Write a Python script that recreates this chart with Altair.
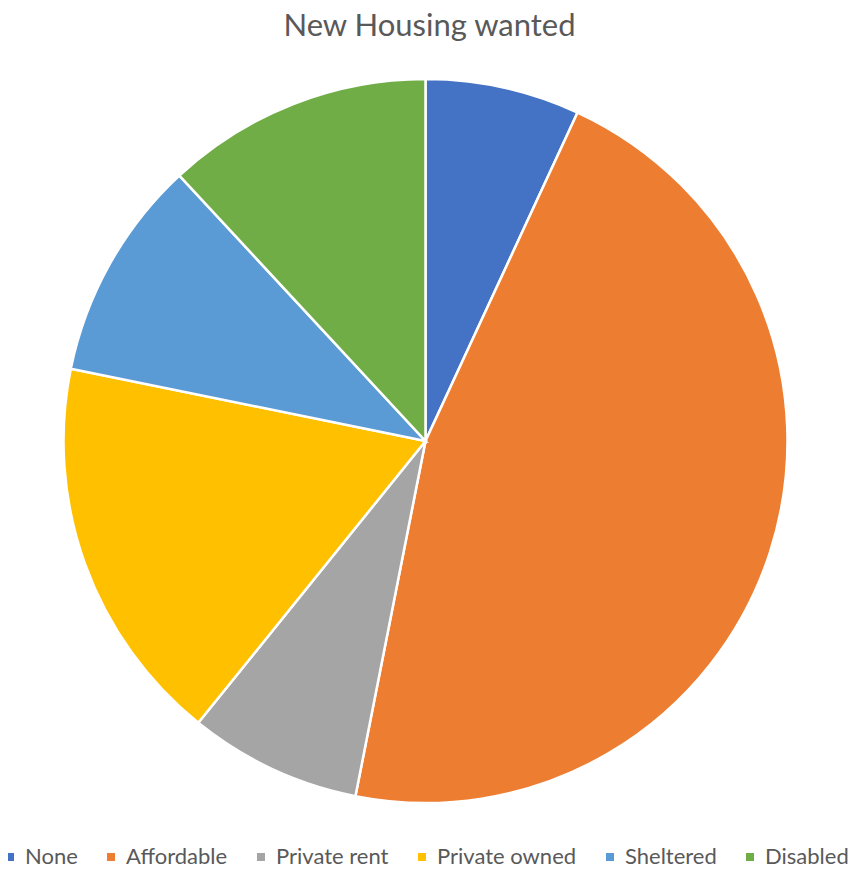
import altair as alt
import pandas as pd

categories = ["None", "Affordable", "Private rent", "Private owned", "Sheltered", "Disabled"]
values = [6.9, 46.2, 7.7, 17.4, 9.9, 11.9]
colors = ["#4472C4", "#ED7D31", "#A5A5A5", "#FFC000", "#5B9BD5", "#70AD47"]

df = pd.DataFrame({"category": categories, "value": values, "idx": list(range(len(categories)))})

FONT = "Lato"

chart = alt.Chart(df).mark_arc(
    radius=362, stroke="white", strokeWidth=2.5
).encode(
    theta=alt.Theta("value:Q", stack=True),
    order=alt.Order("idx:Q", sort="ascending"),
    x=alt.value(417.5),
    y=alt.value(385),
    color=alt.Color(
        "category:N",
        scale=alt.Scale(domain=categories, range=colors),
        sort=categories,
        legend=alt.Legend(
            title=None,
            orient="none",
            direction="horizontal",
            legendX=-9,
            legendY=790,
            symbolType="square",
            symbolSize=64,
            symbolStrokeWidth=0,
            labelFont=FONT,
            labelFontSize=22,
            labelColor="#595959",
            labelOffset=4,
            columnPadding=22,
            columns=6,
        ),
    ),
).properties(
    width=843,
    height=812,
    padding={"left": 0, "right": 0, "top": 48, "bottom": 0},
    autosize=alt.AutoSizeParams(type="none"),
    title=alt.TitleParams(
        "New Housing wanted",
        font=FONT,
        fontSize=31,
        fontWeight="normal",
        color="#595959",
        anchor="middle",
        baseline="alphabetic",
        frame="group",
        offset=24,
        dy=35,
    ),
).configure_view(stroke=None)

chart.save("out.html", embed_options={"renderer": "svg", "actions": False})
